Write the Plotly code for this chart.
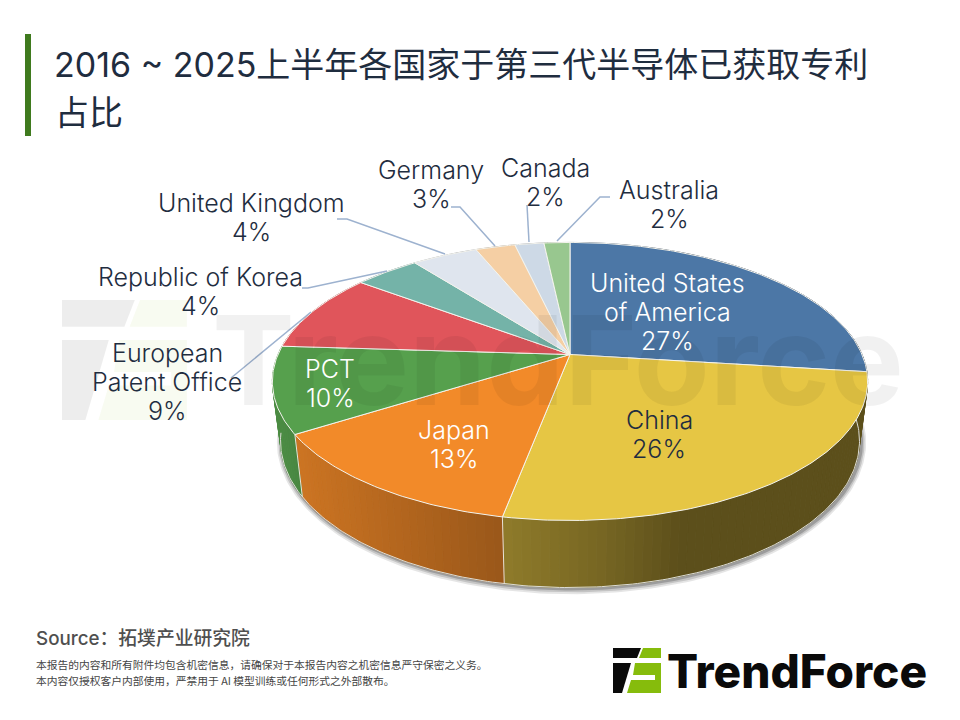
import numpy as np
import plotly.graph_objects as go

# patent share (%), clockwise from 12 o'clock
categories = ["United States of America", "China", "Japan", "PCT", "European Patent Office",
              "Republic of Korea", "United Kingdom", "Germany", "Canada", "Australia"]
values = [27, 26, 13, 10, 9.25, 4.25, 4.3, 2.6, 1.9, 1.7]
colours = ["#4C77A6", "#E6C644", "#F28A29", "#56A04D", "#E0555B",
           "#74B3A8", "#DFE5EE", "#F5CFA4", "#CDD9E6", "#98C78F"]

title_line1 = "2016 ~ 2025上半年各国家于第三代半导体已获取专利"
title_line2 = "占比"
source_text = "Source：拓墣产业研究院"
note_line1 = "本报告的内容和所有附件均包含机密信息，请确保对于本报告内容之机密信息严守保密之义务。"
note_line2 = "本内容仅授权客户内部使用，严禁用于 AI 模型训练或任何形式之外部散布。"
brand = "TrendForce"

label_lines = [["United States", "of America"], ["China"], ["Japan"], ["PCT"],
               ["European", "Patent Office"], ["Republic of Korea"], ["United Kingdom"],
               ["Germany"], ["Canada"], ["Australia"]]
label_x = [667, 659, 454, 330, 167, 200, 251, 431, 545, 669]
label_y = [283, 420, 430, 369, 353, 277, 203, 170, 168, 190]
label_col = ["white", "#1F2D40", "white", "white", "#1F2D40",
             "#1F2D40", "#1F2D40", "#1F2D40", "#1F2D40", "#1F2D40"]

leaders = [[(231, 378), (311, 312)],
           [(302, 288), (308, 288), (387, 271)],
           [(337, 219), (347, 219), (445, 254)],
           [(451, 207), (460, 207), (495, 246)],
           [(527, 205), (529, 242)],
           [(610, 197), (600, 197), (557, 241)]]

# top and bottom faces of the tilted disc
CX, K = 570, 0.194
TOP = dict(a=292, b=133.8, cy=354.5)
BOTTOM = dict(a=284, b=141, cy=412.6)


def project(theta, face, grow=0.0):
    """Disc angle (clockwise from top) to page pixels."""
    X, Y = np.sin(theta), -np.cos(theta)
    w = 1 - K * Y
    return CX + (face["a"] + grow) * X / w, face["cy"] + (face["b"] + grow) * Y / w


def side_shade(x):
    return np.interp(x, [280, 295, 500, 506, 600, 680, 870],
                     [0.88, 0.85, 0.64, 0.62, 0.52, 0.40, 0.40])


def mix(colour, f):
    r, g, b = [int(colour[i:i + 2], 16) for i in (1, 3, 5)]
    return "rgb(%d,%d,%d)" % (r * f, g * f, b * f)


fig = go.Figure()
edges = 2 * np.pi * np.cumsum([0] + values) / sum(values)
ring = np.linspace(0, 2 * np.pi, 361)

# soft shadow under the disc
for grow, alpha in [(5, 0.10), (3.5, 0.14), (2, 0.2)]:
    sx, sy = project(ring, BOTTOM, grow)
    fig.add_trace(go.Scatter(x=sx + 1.5, y=sy + 0.5, mode="lines", fill="toself",
                             line=dict(width=0), fillcolor="rgba(0,0,0,%.2f)" % alpha))

# side wall, one thin band per step so it can be shaded
for i, col in enumerate(colours):
    lo, hi = edges[i], edges[i + 1]
    n = max(int((hi - lo) / np.radians(1.5)), 1)
    steps = np.linspace(lo, hi, n + 1)
    for t0, t1 in zip(steps[:-1], steps[1:]):
        tx0, ty0 = project(t0, TOP)
        tx1, ty1 = project(t1, TOP)
        bx0, by0 = project(t0, BOTTOM)
        bx1, by1 = project(t1, BOTTOM)
        fc = mix(col, side_shade((tx0 + tx1 + bx0 + bx1) / 4))
        fig.add_trace(go.Scatter(x=[tx0, tx1, bx1, bx0, tx0], y=[ty0, ty1, by1, by0, ty0],
                                 mode="lines", fill="toself", fillcolor=fc,
                                 line=dict(width=0.8, color=fc)))

# light rim along the bottom edge and the joints of the wall
rx, ry = project(np.linspace(np.radians(92), np.radians(262), 200), BOTTOM)
fig.add_trace(go.Scatter(x=rx, y=ry, mode="lines", line=dict(width=1, color="#DDDDD6")))
for e in edges[2:4]:
    jx0, jy0 = project(e, TOP)
    jx1, jy1 = project(e, BOTTOM)
    fig.add_trace(go.Scatter(x=[jx0, jx1], y=[jy0, jy1], mode="lines",
                             line=dict(width=1, color="#E8E4D8")))

# top face
for i, col in enumerate(colours):
    arc = np.linspace(edges[i], edges[i + 1], max(int(values[i] * 5), 8))
    ax, ay = project(arc, TOP)
    fig.add_trace(go.Scatter(x=np.r_[CX, ax, CX], y=np.r_[TOP["cy"], ay, TOP["cy"]],
                             mode="lines", fill="toself", fillcolor=col,
                             line=dict(width=1, color="#F4F4EE")))

for pts in leaders:
    fig.add_trace(go.Scatter(x=[p[0] for p in pts], y=[p[1] for p in pts], mode="lines",
                             line=dict(width=1.5, color="#9DB2CF")))

LATIN = "Inter, 'Noto Sans CJK SC', sans-serif"
notes = []


def text(x, y, s, size, colour, anchor="left", weight=None, family=LATIN):
    notes.append(dict(x=x, y=y, text=s, showarrow=False, xanchor=anchor, yanchor="middle",
                      align="center" if anchor == "center" else "left",
                      font=dict(family=family, size=size, color=colour, weight=weight)))


text(210, 360, brand, 124, "rgba(0,0,0,0.055)", weight=700)
for i in range(len(values)):
    rows = label_lines[i] + ["%d%%" % round(values[i])]
    for j, row in enumerate(rows):
        text(label_x[i], label_y[i] + j * 29, row, 25, label_col[i], anchor="center", weight=300)

text(52, 64, title_line1, 34, "#1F2D3F", weight=400)
text(53, 112, title_line2, 34, "#1F2D3F", weight=400)
text(34, 638, source_text, 18.8, "#4F4F4F", weight=500)
text(34, 664, note_line1, 10.75, "#444444", family="'Noto Sans CJK SC'")
text(34, 680, note_line2, 10.75, "#444444", family="'Noto Sans CJK SC'")
text(665, 671, brand, 46, "#0A0A0A", weight=800)


def logo_shapes(ox, oy, sx, sy, dark, green):
    dark_parts = [[(613, 648), (641, 648), (637, 658), (613, 658)],
                  [(613, 663), (631, 663), (622, 693), (613, 693)]]
    green_parts = [[(643, 648), (661, 648), (661, 658), (639, 658)],
                   [(635, 663), (661, 663), (661, 693), (627, 693), (631, 680),
                    (655, 680), (655, 675), (633, 675)]]
    out = []
    for parts, col in ((dark_parts, dark), (green_parts, green)):
        for part in parts:
            path = "M" + " L".join("%.1f,%.1f" % (ox + (px - 613) * sx, oy + (py - 648) * sy)
                                   for px, py in part) + " Z"
            out.append(dict(type="path", path=path, fillcolor=col, line=dict(width=0),
                            layer="above"))
    return out


shapes = [dict(type="rect", x0=25, x1=31, y0=34, y1=136, fillcolor="#3F7A1E",
               line=dict(width=0))]
shapes += logo_shapes(613, 648, 1, 1, "#0A0A0A", "#86BC0C")
shapes += logo_shapes(62, 300, 2.6, 2.67, "rgba(0,0,0,0.07)", "rgba(134,188,12,0.06)")

fig.update_layout(width=960, height=720, margin=dict(l=0, r=0, t=0, b=0),
                  paper_bgcolor="white", plot_bgcolor="white", showlegend=False,
                  hovermode=False, annotations=notes, shapes=shapes,
                  xaxis=dict(range=[0, 960], visible=False, fixedrange=True),
                  yaxis=dict(range=[720, 0], visible=False, fixedrange=True))

fig.write_html("out.html", config=dict(displayModeBar=False),
               post_script="document.body.style.margin='0';")
